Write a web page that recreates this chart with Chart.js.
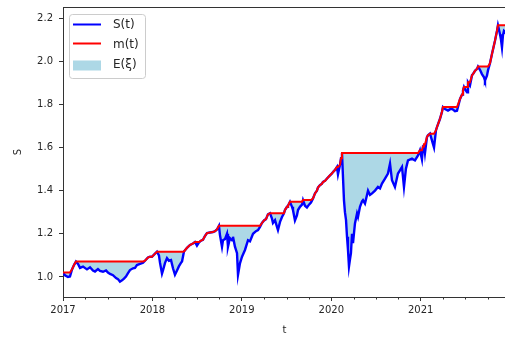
<!DOCTYPE html>
<html><head><meta charset="utf-8">
<script src="https://cdn.jsdelivr.net/npm/chart.js@4.4.0/dist/chart.umd.min.js"></script>
<style>
html,body{margin:0;padding:0;overflow:hidden;background:#fff;width:505px;height:338px}
#wrap{position:absolute;left:0;top:0;width:512px;height:338px}
</style>
</head><body><div id="wrap"><canvas id="c" width="512" height="338"></canvas></div>
<script>
// time in decimal years
const T = [
2017.000,2017.022,2017.056,2017.078,2017.101,2017.123,2017.145,
2017.168,2017.190,2017.224,2017.268,2017.302,2017.335,2017.358,2017.391,2017.414,2017.447,2017.481,2017.503,2017.526,2017.559,2017.593,2017.615,2017.637,2017.660,2017.682,2017.704,2017.727,2017.749,2017.783,2017.805,2017.827,2017.861,2017.895,
2017.917,2017.950,2017.973,2017.995,2018.029,2018.051,
2018.073,2018.085,2018.107,2018.118,2018.141,2018.163,2018.185,2018.208,2018.230,2018.252,2018.275,2018.297,2018.319,2018.331,
2018.353,2018.387,2018.420,2018.454,2018.476,2018.498,2018.521,2018.543,2018.565,2018.588,2018.610,2018.644,2018.677,2018.700,2018.722,2018.744,
2018.755,2018.778,2018.789,2018.811,2018.834,2018.845,2018.867,2018.890,2018.901,2018.923,2018.946,2018.957,2018.979,2019.002,2019.035,2019.069,2019.091,2019.125,2019.158,2019.181,2019.203,
2019.225,2019.248,2019.270,2019.292,2019.315,
2019.337,2019.348,2019.371,2019.393,2019.404,2019.427,2019.449,2019.471,
2019.482,2019.505,2019.516,2019.538,
2019.561,2019.572,2019.594,2019.616,2019.628,2019.650,2019.673,
2019.684,2019.706,2019.728,2019.751,2019.773,
2019.796,2019.818,2019.840,2019.851,2019.873,2019.896,2019.907,2019.930,2019.952,2019.986,2020.008,2020.019,2020.042,2020.064,
2020.075,2020.098,2020.109,2020.120,
2020.131,2020.142,2020.153,2020.165,2020.176,2020.187,2020.198,2020.209,2020.220,2020.232,2020.243,2020.265,2020.288,2020.299,2020.321,2020.344,2020.355,2020.377,2020.411,2020.433,2020.456,2020.489,2020.522,2020.545,2020.567,2020.601,2020.634,2020.657,2020.679,2020.712,2020.746,2020.768,2020.791,2020.813,2020.835,2020.858,2020.903,2020.936,2020.970,
2020.992,2021.014,2021.026,2021.037,2021.048,2021.070,2021.081,2021.104,2021.126,2021.137,2021.149,2021.171,2021.182,2021.216,2021.238,2021.249,
2021.272,2021.305,2021.339,2021.361,2021.384,2021.406,
2021.440,2021.462,2021.473,2021.484,2021.495,2021.518,2021.529,2021.551,2021.574,2021.585,2021.607,2021.630,2021.641,
2021.663,2021.685,2021.708,2021.719,2021.741,2021.752,
2021.775,2021.797,2021.820,2021.831,2021.853,2021.864,
2021.887,2021.898,2021.909,2021.920,2021.931,2021.954
];
// S(t)
const S = [
1.020,1.008,1.000,1.002,1.035,1.055,1.071,
1.060,1.042,1.048,1.035,1.045,1.030,1.025,1.036,1.028,1.024,1.030,1.020,1.014,1.008,0.995,0.990,0.978,0.984,0.992,1.002,1.018,1.032,1.040,1.042,1.055,1.060,1.066,
1.075,1.090,1.094,1.093,1.108,1.117,
1.100,1.065,1.015,1.030,1.065,1.087,1.075,1.078,1.040,1.010,1.030,1.050,1.065,1.072,
1.118,1.135,1.148,1.155,1.162,1.145,1.160,1.168,1.172,1.190,1.203,1.206,1.208,1.212,1.220,1.237,
1.195,1.140,1.170,1.175,1.200,1.140,1.180,1.170,1.186,1.140,1.110,1.010,1.063,1.094,1.125,1.170,1.165,1.200,1.212,1.217,1.232,
1.250,1.262,1.268,1.290,1.295,
1.270,1.250,1.263,1.232,1.217,1.255,1.278,1.295,
1.310,1.325,1.330,1.348,
1.325,1.310,1.262,1.285,1.310,1.325,1.335,
1.356,1.330,1.322,1.335,1.345,
1.364,1.387,1.400,1.414,1.425,1.432,1.440,1.445,1.456,1.471,1.480,1.486,1.496,1.510,
1.475,1.520,1.550,1.574,
1.463,1.356,1.300,1.263,1.186,1.125,1.048,1.080,1.110,1.200,1.157,1.248,1.294,1.278,1.325,1.350,1.356,1.340,1.400,1.380,1.387,1.400,1.417,1.410,1.433,1.456,1.479,1.525,1.448,1.417,1.479,1.494,1.510,1.417,1.502,1.540,1.548,1.540,1.563,
1.587,1.545,1.605,1.615,1.575,1.648,1.656,1.664,1.633,1.617,1.600,1.680,1.694,1.733,1.765,1.787,
1.778,1.771,1.780,1.776,1.768,1.770,
1.825,1.845,1.864,1.880,1.870,1.856,1.902,1.887,1.935,1.940,1.955,1.964,1.975,
1.960,1.940,1.925,1.910,1.933,1.956,
1.990,2.033,2.075,2.095,2.140,2.166,
2.125,2.100,2.064,2.120,2.140,2.130
];
// m(t): running maximum of S(t)
const M = [
1.020,1.020,1.020,1.020,1.035,1.055,1.071,
1.071,1.071,1.071,1.071,1.071,1.071,1.071,1.071,1.071,1.071,1.071,1.071,1.071,1.071,1.071,1.071,1.071,1.071,1.071,1.071,1.071,1.071,1.071,1.071,1.071,1.071,1.071,
1.075,1.090,1.094,1.094,1.108,1.117,
1.117,1.117,1.117,1.117,1.117,1.117,1.117,1.117,1.117,1.117,1.117,1.117,1.117,1.117,
1.118,1.135,1.148,1.155,1.162,1.162,1.162,1.168,1.172,1.190,1.203,1.206,1.208,1.212,1.220,1.237,
1.237,1.237,1.237,1.237,1.237,1.237,1.237,1.237,1.237,1.237,1.237,1.237,1.237,1.237,1.237,1.237,1.237,1.237,1.237,1.237,1.237,
1.250,1.262,1.268,1.290,1.295,
1.295,1.295,1.295,1.295,1.295,1.295,1.295,1.295,
1.310,1.325,1.330,1.348,
1.348,1.348,1.348,1.348,1.348,1.348,1.348,
1.356,1.356,1.356,1.356,1.356,
1.364,1.387,1.400,1.414,1.425,1.432,1.440,1.445,1.456,1.471,1.480,1.486,1.496,1.510,
1.510,1.520,1.550,1.574,
1.574,1.574,1.574,1.574,1.574,1.574,1.574,1.574,1.574,1.574,1.574,1.574,1.574,1.574,1.574,1.574,1.574,1.574,1.574,1.574,1.574,1.574,1.574,1.574,1.574,1.574,1.574,1.574,1.574,1.574,1.574,1.574,1.574,1.574,1.574,1.574,1.574,1.574,1.574,
1.587,1.587,1.605,1.615,1.615,1.648,1.656,1.664,1.664,1.664,1.664,1.680,1.694,1.733,1.765,1.787,
1.787,1.787,1.787,1.787,1.787,1.787,
1.825,1.845,1.864,1.880,1.880,1.880,1.902,1.902,1.935,1.940,1.955,1.964,1.975,
1.975,1.975,1.975,1.975,1.975,1.975,
1.990,2.033,2.075,2.095,2.140,2.166,
2.166,2.166,2.166,2.166,2.166,2.166
];
const seriesLabels = ['S(t)', 'm(t)', 'E(\u03BE)'];
const xTicks = [2017, 2018, 2019, 2020, 2021];
const xTickLabels = ['2017', '2018', '2019', '2020', '2021'];
const xMinorTicks = [2017.25,2017.5,2017.75,2018.25,2018.5,2018.75,2019.25,2019.5,2019.75,2020.25,2020.5,2020.75,2021.25,2021.5,2021.75];
const yTicks = [1.0, 1.2, 1.4, 1.6, 1.8, 2.0, 2.2];
const yTickLabels = ['1.0', '1.2', '1.4', '1.6', '1.8', '2.0', '2.2'];
const xTitle = 't';
const yTitle = 'S';

const FONT = 'DejaVu Sans';
const TXT = '#262626';
const AX = '#333333';

const framePlugin = {
  id: 'frame',
  afterDraw(chart) {
    const {ctx, chartArea: a} = chart;
    ctx.save();
    ctx.strokeStyle = AX; ctx.lineWidth = 1;
    ctx.beginPath();
    ctx.moveTo(a.left, Math.round(a.top) + 0.5);
    ctx.lineTo(a.right, Math.round(a.top) + 0.5);
    ctx.moveTo(Math.round(a.right) + 0.5, a.top);
    ctx.lineTo(Math.round(a.right) + 0.5, a.bottom);
    ctx.stroke();
    // minor x ticks
    const xs = chart.scales.x;
    ctx.beginPath();
    xMinorTicks.forEach(v => {
      const px = Math.round(xs.getPixelForValue(v)) + 0.5;
      ctx.moveTo(px, a.bottom);
      ctx.lineTo(px, a.bottom + 2.5);
    });
    ctx.stroke();
    ctx.restore();
  }
};

const legendPlugin = {
  id: 'mlegend',
  afterDraw(chart) {
    const {ctx, chartArea: a} = chart;
    const ds = chart.data.datasets;
    const x0 = a.left + 6.5, y0 = a.top + 7.5, w = 76, h = 64;
    ctx.save();
    ctx.beginPath();
    if (ctx.roundRect) ctx.roundRect(x0, y0, w, h, 3); else ctx.rect(x0, y0, w, h);
    ctx.fillStyle = 'rgba(255,255,255,0.8)';
    ctx.fill();
    ctx.strokeStyle = '#cccccc'; ctx.lineWidth = 1;
    ctx.stroke();
    const hx = a.left + 10, hw = 28, tx = a.left + 50;
    ctx.lineWidth = 2;
    ctx.strokeStyle = ds[0].borderColor;
    ctx.beginPath(); ctx.moveTo(hx, a.top + 17.5); ctx.lineTo(hx + hw, a.top + 17.5); ctx.stroke();
    ctx.strokeStyle = ds[1].borderColor;
    ctx.beginPath(); ctx.moveTo(hx, a.top + 36.5); ctx.lineTo(hx + hw, a.top + 36.5); ctx.stroke();
    ctx.fillStyle = ds[0].backgroundColor;
    ctx.fillRect(hx, a.top + 53.5, hw, 10);
    ctx.fillStyle = TXT;
    ctx.font = '12px "' + FONT + '"';
    ctx.textBaseline = 'middle';
    ctx.textAlign = 'left';
    ctx.fillText(seriesLabels[0], tx, a.top + 18);
    ctx.fillText(seriesLabels[1], tx, a.top + 37.5);
    ctx.fillText(seriesLabels[2], tx, a.top + 58);
    ctx.restore();
  }
};

function noPad(s) { s.paddingTop = 0; s.paddingBottom = 0; s.paddingLeft = 0; s.paddingRight = 0; }

new Chart(document.getElementById('c'), {
  type: 'line',
  data: {
    datasets: [
      { label: seriesLabels[0], data: T.map((t, i) => ({x: t, y: S[i]})),
        borderColor: '#0000ff', borderWidth: 2.4, pointRadius: 0, tension: 0,
        fill: '+1', backgroundColor: '#add8e6', order: 2 },
      { label: seriesLabels[1], data: T.map((t, i) => ({x: t, y: M[i]})),
        borderColor: '#ff0000', borderWidth: 2, pointRadius: 0, tension: 0,
        fill: false, order: 1 }
    ]
  },
  options: {
    responsive: false, animation: false, devicePixelRatio: 1,
    layout: { padding: { top: 7, right: 6, bottom: 0, left: 0 } },
    plugins: { legend: { display: false }, tooltip: { enabled: false } },
    scales: {
      x: {
        type: 'linear', min: T[0], max: T[T.length - 1],
        afterBuildTicks: s => { s.ticks = xTicks.map(v => ({value: v})); },
        afterFit: s => { s.height = 41; noPad(s); },
        ticks: { callback: (v, i) => xTickLabels[i], font: {family: FONT, size: 10}, color: TXT, padding: 3, maxRotation: 0, autoSkip: false },
        grid: { drawOnChartArea: false, tickLength: 4, color: AX },
        border: { color: AX, width: 1 },
        title: { display: true, text: xTitle, font: {family: FONT, size: 10}, color: TXT, padding: {top: 0, bottom: 2} }
      },
      y: {
        min: 0.907, max: 2.251,
        afterBuildTicks: s => { s.ticks = yTicks.map(v => ({value: v})); },
        afterFit: s => { s.width = 63; noPad(s); },
        ticks: { callback: (v, i) => yTickLabels[i], font: {family: FONT, size: 10}, color: TXT, padding: 6 },
        grid: { drawOnChartArea: false, tickLength: 4, color: AX },
        border: { color: AX, width: 1 },
        title: { display: true, text: yTitle, font: {family: FONT, size: 10}, color: TXT, padding: {top: 12, bottom: 0} }
      }
    }
  },
  plugins: [framePlugin, legendPlugin]
});
</script>
</body></html>
